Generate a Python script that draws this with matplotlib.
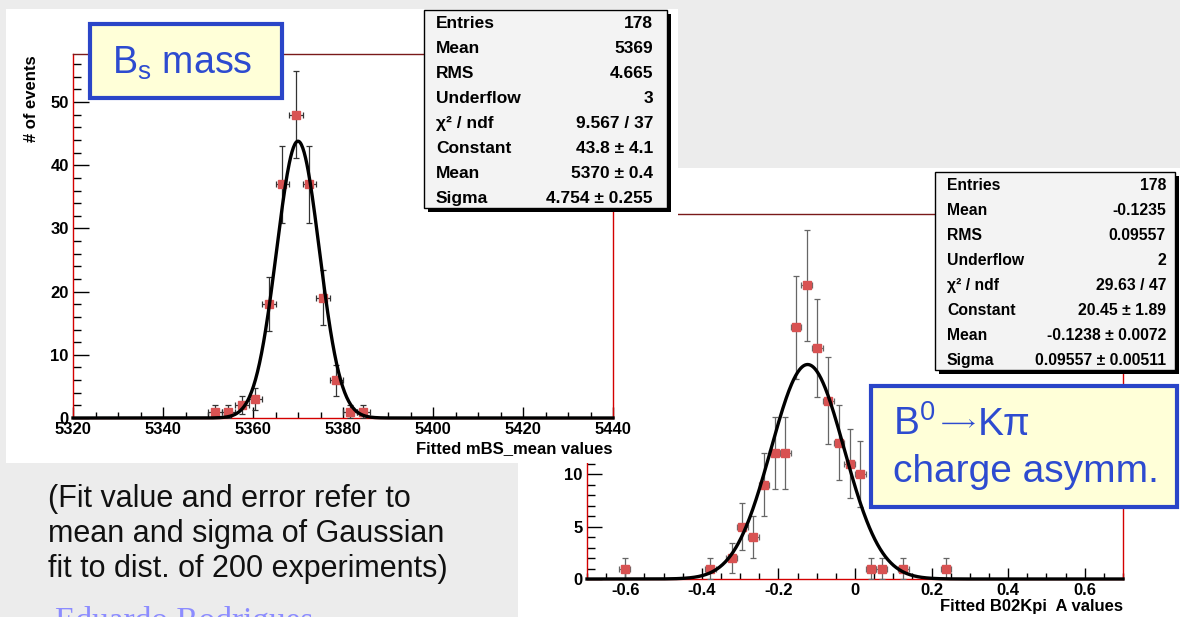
import numpy as np
import matplotlib
matplotlib.use("Agg")
import matplotlib.pyplot as plt
from matplotlib.patches import Rectangle
from matplotlib.ticker import MultipleLocator

plt.rcParams['font.family'] = ['Liberation Sans', 'DejaVu Sans']
plt.rcParams['axes.unicode_minus'] = False
plt.rcParams['mathtext.default'] = 'regular'

# Bs mass toy fits: bin centres and counts (bin width 3)
mbs_centres = [5351.5, 5354.5, 5357.5, 5360.5, 5363.5, 5366.5, 5369.5,
               5372.5, 5375.5, 5378.5, 5381.5, 5384.5]
mbs_counts = [1, 1, 2, 3, 18, 37, 48, 37, 19, 6, 1, 1]
mbs_binw = 3.0
mbs_fit = (43.8, 5370.0, 4.754)   # constant, mean, sigma
mbs_names = ['Entries', 'Mean', 'RMS', 'Underflow', 'χ² / ndf',
             'Constant', 'Mean', 'Sigma']
mbs_values = ['178', '5369', '4.665', '3', '9.567 / 37',
              '43.8 ± 4.1', '5370 ± 0.4', '4.754 ± 0.255']

# B0 -> K pi asymmetry toy fits (bin width 0.028)
akpi_centres = [-0.602, -0.378, -0.322, -0.294, -0.266, -0.238, -0.210,
                -0.182, -0.154, -0.126, -0.098, -0.070, -0.042, -0.014,
                0.014, 0.042, 0.070, 0.126, 0.238]
akpi_counts = [1, 1, 2, 5, 4, 9, 12, 12, 24, 28, 22, 17, 13, 11, 10,
               1, 1, 1, 1]
akpi_binw = 0.028
akpi_fit = (20.45, -0.1238, 0.09557)
akpi_ticks = [-0.6, -0.4, -0.2, 0.0, 0.2, 0.4, 0.6]
akpi_ticklabels = ['-0.6', '-0.4', '-0.2', '0', '0.2', '0.4', '0.6']
akpi_names = ['Entries', 'Mean', 'RMS', 'Underflow', 'χ² / ndf',
              'Constant', 'Mean', 'Sigma']
akpi_values = ['178', '-0.1235', '0.09557', '2', '29.63 / 47',
               '20.45 ± 1.89', '-0.1238 ± 0.0072', '0.09557 ± 0.00511']

note_lines = ['(Fit value and error refer to',
              'mean and sigma of Gaussian',
              'fit to dist. of 200 experiments)']

W, H = 1180, 617
fig = plt.figure(figsize=(W / 100, H / 100), dpi=100, facecolor='#ececec')


def fx(x):
    return x / W


def fy(y):
    return 1 - y / H


def rect(x0, y0, x1, y1, **kw):
    r = Rectangle((fx(x0), fy(y1)), (x1 - x0) / W, (y1 - y0) / H,
                  transform=fig.transFigure, **kw)
    fig.add_artist(r)
    return r


def frame(ax):
    for side in ['left', 'right', 'bottom']:
        ax.spines[side].set_color('#d40000')
        ax.spines[side].set_linewidth(1.0)
    ax.spines['top'].set_color('#7a1a1a')
    ax.spines['top'].set_linewidth(1.0)
    ax.set_facecolor('none')


def histo(ax, centres, counts, binw, fit, ecolor):
    c = np.array(centres)
    n = np.array(counts, dtype=float)
    ax.errorbar(c, n, xerr=binw / 2, yerr=np.sqrt(n), fmt='s', ms=6,
                mfc='#d85252', mec='#d85252', ecolor=ecolor, elinewidth=0.9,
                capsize=2, capthick=0.9, zorder=3)
    lo, hi = ax.get_xlim()
    xs = np.linspace(lo, hi, 800)
    amp, mu, sig = fit
    ax.plot(xs, amp * np.exp(-0.5 * ((xs - mu) / sig) ** 2), color='black',
            lw=2.4, zorder=4, clip_on=False)


def style_ticks(ax, ymajor_len):
    ax.tick_params(axis='x', which='major', direction='in', length=8,
                   width=1, pad=3, labelsize=12)
    ax.tick_params(axis='x', which='minor', direction='in', length=4, width=1)
    ax.tick_params(axis='y', which='major', direction='in',
                   length=ymajor_len, width=1, pad=3, labelsize=12)
    ax.tick_params(axis='y', which='minor', direction='in', length=5.5,
                   width=1)
    plt.setp(ax.get_xticklabels() + ax.get_yticklabels(), fontweight='bold')


def stat_box(x0, y0, x1, y1, names, values, fs, lx, rx, ytop, step, z):
    rect(x0 + 4, y0 + 4, x1 + 4, y1 + 4, facecolor='black', zorder=z)
    rect(x0, y0, x1, y1, facecolor='#f3f3f3', edgecolor='black', lw=1,
         zorder=z + 0.1)
    for i, (nm, val) in enumerate(zip(names, values)):
        y = fy(ytop + i * step)
        fig.text(fx(lx), y, nm, ha='left', va='center', fontsize=fs,
                 fontweight='bold', zorder=z + 0.2)
        fig.text(fx(rx), y, val, ha='right', va='center', fontsize=fs,
                 fontweight='bold', zorder=z + 0.2)


# white pads behind the two canvases
rect(518, 168, 1180, 617, facecolor='white', zorder=-1)
rect(6, 9, 678, 463, facecolor='white', zorder=1)

# right canvas: charge asymmetry
ax2 = fig.add_axes([fx(587), fy(579), (1123 - 587) / W, (579 - 214) / H],
                   zorder=0)
ax2.set_xlim(-0.7, 0.7)
ax2.set_ylim(0, 34.8)
frame(ax2)
ax2.set_xticks(akpi_ticks)
ax2.set_xticklabels(akpi_ticklabels)
ax2.xaxis.set_minor_locator(MultipleLocator(0.05))
ax2.set_yticks(range(0, 31, 5))
ax2.yaxis.set_minor_locator(MultipleLocator(1))
style_ticks(ax2, 11)
histo(ax2, akpi_centres, akpi_counts, akpi_binw, akpi_fit, '#666666')
fig.text(fx(1123), fy(607), 'Fitted B02Kpi  A values', ha='right',
         va='center', fontsize=12, fontweight='bold', zorder=0.5)

# left canvas: Bs mass
ax1 = fig.add_axes([fx(73), fy(418), (613 - 73) / W, (418 - 54) / H],
                   zorder=2)
ax1.set_xlim(5320, 5440)
ax1.set_ylim(0, 57.6)
frame(ax1)
ax1.set_xticks(range(5320, 5441, 20))
ax1.xaxis.set_minor_locator(MultipleLocator(5))
ax1.set_yticks(range(0, 51, 10))
ax1.yaxis.set_minor_locator(MultipleLocator(2))
style_ticks(ax1, 11.5)
histo(ax1, mbs_centres, mbs_counts, mbs_binw, mbs_fit, '#333333')
fig.text(fx(613), fy(449), 'Fitted mBS_mean values', ha='right',
         va='center', fontsize=12, fontweight='bold', zorder=2.5)
fig.text(fx(31), fy(55), '# of events', rotation=90, ha='center', va='top',
         fontsize=12, fontweight='bold', zorder=2.5)

# statistics boxes
stat_box(424, 10, 667, 208, mbs_names, mbs_values, 12.5, 436, 653, 23,
         25.1, 3)
stat_box(935, 172, 1175, 370, akpi_names, akpi_values, 11.3, 947, 1166, 185,
         25.1, 3)

# title boxes
blue = '#2d4bd0'
rect(90, 24, 282, 98, facecolor='#ffffd8', edgecolor='#2a45c8', lw=3,
     zorder=4)
fig.text(fx(112), fy(74), 'B$_{s}$ mass', fontsize=27, color=blue,
         va='baseline', ha='left', zorder=4.1)
rect(871, 386, 1177, 507, facecolor='#ffffd8', edgecolor='#2a45c8', lw=3,
     zorder=4)
fig.text(fx(893), fy(435), 'B$^{0}$', fontsize=28, color=blue,
         va='baseline', ha='left', zorder=4.1)
fig.text(fx(936), fy(423), '$\\longrightarrow$', fontsize=16, color=blue,
         va='center', ha='left', zorder=4.1)
fig.text(fx(978), fy(435), 'Kπ', fontsize=28, color=blue,
         va='baseline', ha='left', zorder=4.1)
fig.text(fx(893), fy(482), 'charge asymm.', fontsize=28, color=blue,
         va='baseline', ha='left', zorder=4.1)

# notes on the grey background
for i, line in enumerate(note_lines):
    fig.text(fx(48), fy(499 + 35 * i), line, fontsize=22, color='#111111',
             va='center', ha='left', zorder=0.5)
fig.text(fx(55), fy(630), 'Eduardo Rodrigues', fontsize=24,
         family=['Liberation Serif', 'DejaVu Serif'], color='#8c8cff',
         va='baseline', ha='left', zorder=0.5)

fig.savefig('out.png', dpi=100, facecolor=fig.get_facecolor())
